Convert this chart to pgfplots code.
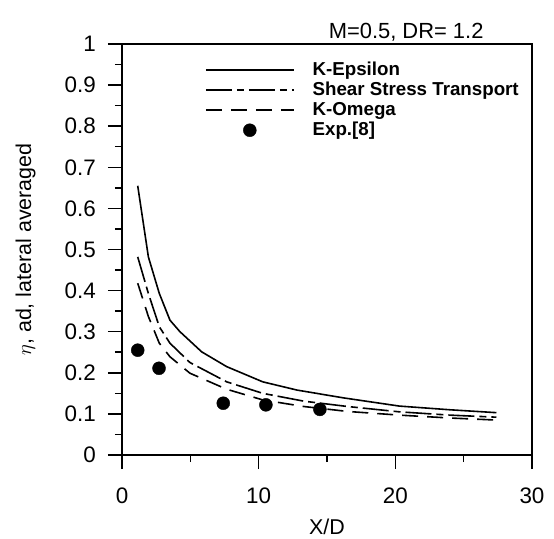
\documentclass[border=0pt]{standalone}
\usepackage{pgfplots}
\pgfplotsset{compat=1.18}
\usepackage{fontspec}
\setmainfont{Liberation Sans}

\begin{document}
\begin{tikzpicture}
\begin{axis}[
    width=410bp, height=411bp, scale only axis,
    xmin=0, xmax=30, ymin=0, ymax=1,
    xtick={0,10,20,30}, minor xtick={5,15,25},
    ytick={0,0.1,0.2,0.3,0.4,0.5,0.6,0.7,0.8,0.9,1},
    minor ytick={0.05,0.15,0.25,0.35,0.45,0.55,0.65,0.75,0.85,0.95},
    tick align=outside, tick pos=left,
    major tick length=14bp, minor tick length=7bp,
    every tick/.style={black, line width=1.5bp},
    axis line style={line width=1.5bp},
    /pgf/number format/assume math mode=true,
    /pgf/number format/fixed,
    ticklabel style={font=\fontsize{22.5}{26}\selectfont, inner sep=0pt},
    xticklabel style={anchor=north, yshift=-19bp},
    yticklabel style={anchor=east, xshift=-12bp},
    title={M=0.5, DR= 1.2},
    title style={at={(axis description cs:0.693,1.015)}, anchor=center,
        font=\fontsize{22}{26}\selectfont},
    xlabel={X/D},
    ylabel={$\eta$, ad, lateral averaged},
    label style={font=\fontsize{21.5}{25}\selectfont},
    xlabel style={at={(axis description cs:0.5,-0.175)}, anchor=center},
    ylabel style={at={(axis description cs:-0.235,0.5)}, anchor=center},
    legend style={draw=none, fill=none, inner sep=0pt,
        at={(axis description cs:0.202,0.961)}, anchor=north west,
        font=\fontsize{18.8}{22}\selectfont\bfseries,
        nodes={inner sep=1bp, text height=14bp, text depth=4bp},
        column sep=17bp, row sep=0pt},
    legend cell align=left,
    legend image code/.code={\draw[#1] (0bp,0bp) -- (88bp,0bp);},
]
\addplot[black, line width=1.6bp] coordinates {
    (1.15,0.655) (1.93,0.482) (2.73,0.393) (3.51,0.328) (4.24,0.300)
    (5.83,0.251) (7.66,0.215) (10.3,0.178) (12.8,0.158) (16.2,0.139)
    (20.3,0.119) (24.0,0.110) (27.4,0.103)
};
\addlegendentry{K-Epsilon}
\addplot[black, line width=1.6bp, dash pattern=on 26bp off 5bp on 7bp off 5bp] coordinates {
    (1.15,0.482) (1.93,0.393) (2.73,0.312) (3.51,0.272) (4.97,0.225)
    (7.66,0.178) (10.3,0.150) (13.3,0.131) (16.5,0.118) (20.3,0.105)
    (24.0,0.097) (27.4,0.092)
};
\addlegendentry{Shear Stress Transport}
\addplot[black, line width=1.6bp, dash pattern=on 16bp off 9bp] coordinates {
    (1.15,0.418) (1.93,0.337) (2.73,0.272) (3.51,0.239) (4.97,0.199)
    (7.66,0.160) (10.3,0.134) (13.3,0.118) (16.5,0.106) (20.3,0.097)
    (24.0,0.090) (27.4,0.085)
};
\addlegendentry{K-Omega}
\addplot[only marks, mark=*, mark size=6.5bp, black,
    legend image code/.code={\path[draw=none] (0bp,0bp) -- (88bp,0bp); \fill[black] (44bp,0bp) circle (6.5bp);}]
    coordinates {
    (1.15,0.255) (2.71,0.211) (7.41,0.126) (10.53,0.122) (14.48,0.111)
};
\addlegendentry{Exp.[8]}
\path (rel axis cs:0,0) ++(-122bp,-81bp) coordinate (bbA);
\path (rel axis cs:1,1) ++(22bp,44bp) coordinate (bbB);
\end{axis}
\path (bbA) rectangle (bbB);
\end{tikzpicture}
\end{document}
